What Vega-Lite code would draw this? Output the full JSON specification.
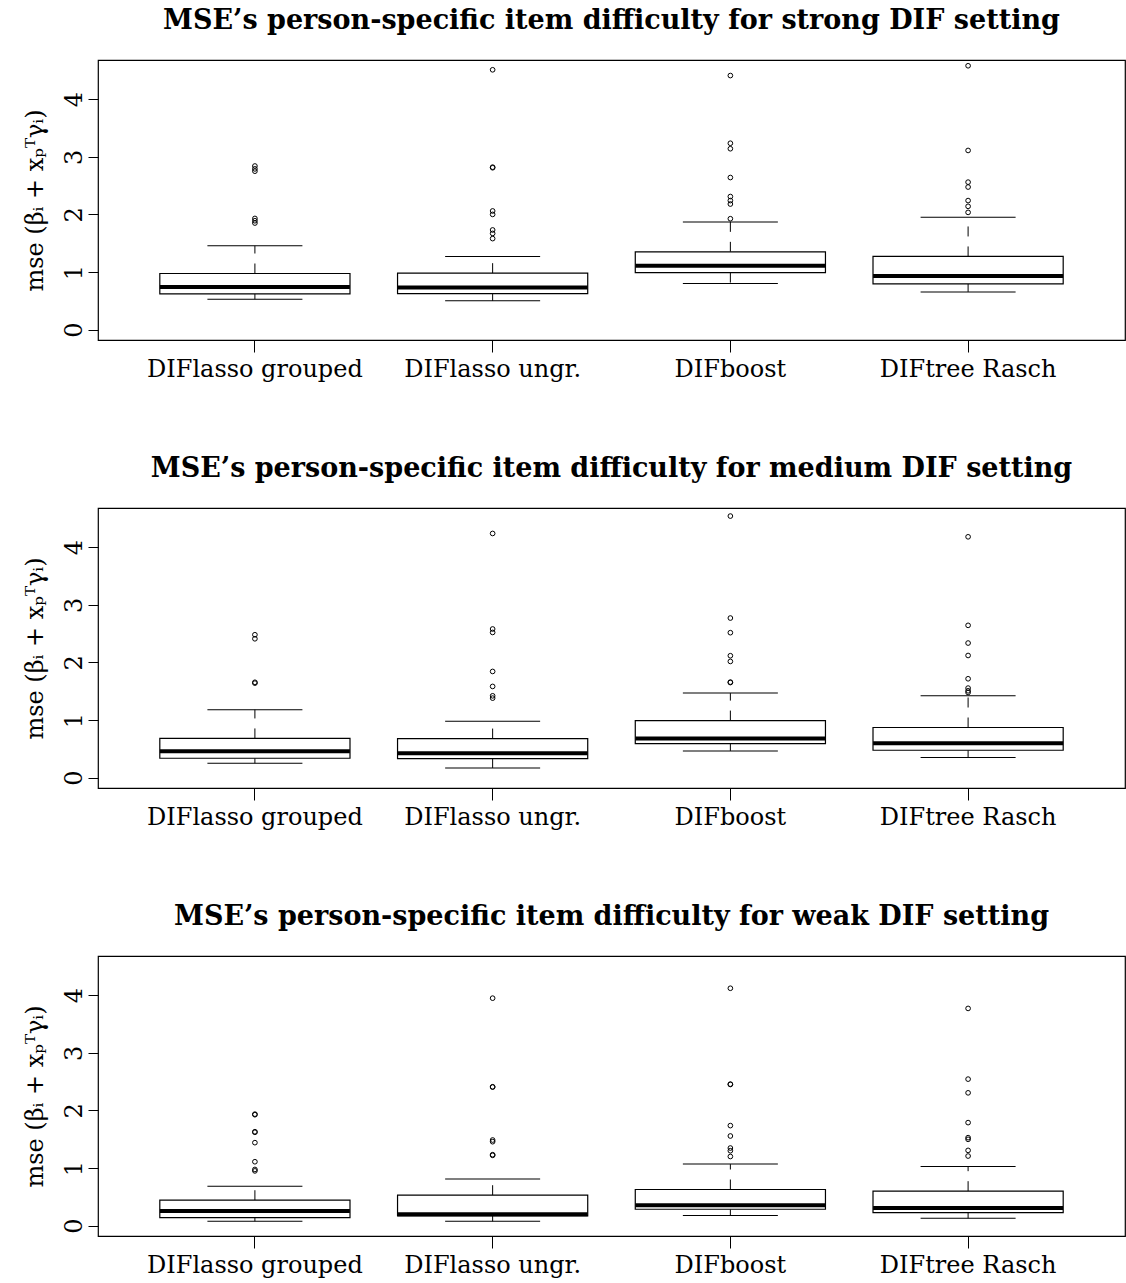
{
  "$schema": "https://vega.github.io/schema/vega-lite/v6.json",
  "background": "white",
  "padding": {"left": 22, "top": 6, "right": 0, "bottom": 0},
  "config": {
    "font": "DejaVu Serif",
    "view": {"stroke": "black", "strokeWidth": 1.2},
    "axis": {"labelColor": "black", "titleColor": "black", "tickColor": "black", "grid": false, "domain": false, "labelFont": "DejaVu Serif", "titleFont": "DejaVu Serif", "labelFontSize": 24, "titleFontSize": 24, "titleFontWeight": "normal", "labelLimit": 0},
    "title": {"font": "DejaVu Serif", "fontSize": 27, "fontWeight": "bold", "color": "black", "anchor": "middle", "offset": 25},
    "concat": {"spacing": 72}
  },
  "datasets": {
    "boxes": [
      {"setting": "strong", "method": "DIFlasso grouped", "lo": 0.528, "q1": 0.62, "med": 0.742, "q3": 0.974, "hi": 1.455},
      {"setting": "strong", "method": "DIFlasso ungr.", "lo": 0.50, "q1": 0.626, "med": 0.73, "q3": 0.98, "hi": 1.27},
      {"setting": "strong", "method": "DIFboost", "lo": 0.80, "q1": 0.99, "med": 1.107, "q3": 1.35, "hi": 1.87},
      {"setting": "strong", "method": "DIFtree Rasch", "lo": 0.655, "q1": 0.794, "med": 0.933, "q3": 1.27, "hi": 1.95},
      {"setting": "medium", "method": "DIFlasso grouped", "lo": 0.25, "q1": 0.336, "med": 0.458, "q3": 0.68, "hi": 1.18},
      {"setting": "medium", "method": "DIFlasso ungr.", "lo": 0.168, "q1": 0.33, "med": 0.423, "q3": 0.678, "hi": 0.98},
      {"setting": "medium", "method": "DIFboost", "lo": 0.464, "q1": 0.59, "med": 0.678, "q3": 0.99, "hi": 1.467},
      {"setting": "medium", "method": "DIFtree Rasch", "lo": 0.348, "q1": 0.475, "med": 0.597, "q3": 0.87, "hi": 1.42},
      {"setting": "weak", "method": "DIFlasso grouped", "lo": 0.075, "q1": 0.139, "med": 0.255, "q3": 0.441, "hi": 0.685},
      {"setting": "weak", "method": "DIFlasso ungr.", "lo": 0.075, "q1": 0.169, "med": 0.197, "q3": 0.528, "hi": 0.81},
      {"setting": "weak", "method": "DIFboost", "lo": 0.174, "q1": 0.284, "med": 0.354, "q3": 0.627, "hi": 1.068},
      {"setting": "weak", "method": "DIFtree Rasch", "lo": 0.128, "q1": 0.226, "med": 0.308, "q3": 0.598, "hi": 1.028}
    ],
    "outliers": [
      {"setting": "strong", "method": "DIFlasso grouped", "v": 2.84}, {"setting": "strong", "method": "DIFlasso grouped", "v": 2.79}, {"setting": "strong", "method": "DIFlasso grouped", "v": 2.75},
      {"setting": "strong", "method": "DIFlasso grouped", "v": 1.93}, {"setting": "strong", "method": "DIFlasso grouped", "v": 1.89}, {"setting": "strong", "method": "DIFlasso grouped", "v": 1.85},
      {"setting": "strong", "method": "DIFlasso ungr.", "v": 4.51}, {"setting": "strong", "method": "DIFlasso ungr.", "v": 2.82}, {"setting": "strong", "method": "DIFlasso ungr.", "v": 2.81},
      {"setting": "strong", "method": "DIFlasso ungr.", "v": 2.06}, {"setting": "strong", "method": "DIFlasso ungr.", "v": 2.0}, {"setting": "strong", "method": "DIFlasso ungr.", "v": 1.73},
      {"setting": "strong", "method": "DIFlasso ungr.", "v": 1.67}, {"setting": "strong", "method": "DIFlasso ungr.", "v": 1.58},
      {"setting": "strong", "method": "DIFboost", "v": 4.41}, {"setting": "strong", "method": "DIFboost", "v": 3.235}, {"setting": "strong", "method": "DIFboost", "v": 3.14},
      {"setting": "strong", "method": "DIFboost", "v": 2.64}, {"setting": "strong", "method": "DIFboost", "v": 2.31}, {"setting": "strong", "method": "DIFboost", "v": 2.24},
      {"setting": "strong", "method": "DIFboost", "v": 2.18}, {"setting": "strong", "method": "DIFboost", "v": 1.925},
      {"setting": "strong", "method": "DIFtree Rasch", "v": 4.58}, {"setting": "strong", "method": "DIFtree Rasch", "v": 3.11}, {"setting": "strong", "method": "DIFtree Rasch", "v": 2.56},
      {"setting": "strong", "method": "DIFtree Rasch", "v": 2.475}, {"setting": "strong", "method": "DIFtree Rasch", "v": 2.24}, {"setting": "strong", "method": "DIFtree Rasch", "v": 2.14},
      {"setting": "strong", "method": "DIFtree Rasch", "v": 2.035},
      {"setting": "medium", "method": "DIFlasso grouped", "v": 2.48}, {"setting": "medium", "method": "DIFlasso grouped", "v": 2.41}, {"setting": "medium", "method": "DIFlasso grouped", "v": 1.655},
      {"setting": "medium", "method": "DIFlasso grouped", "v": 1.64},
      {"setting": "medium", "method": "DIFlasso ungr.", "v": 4.238}, {"setting": "medium", "method": "DIFlasso ungr.", "v": 2.58}, {"setting": "medium", "method": "DIFlasso ungr.", "v": 2.52},
      {"setting": "medium", "method": "DIFlasso ungr.", "v": 1.843}, {"setting": "medium", "method": "DIFlasso ungr.", "v": 1.583}, {"setting": "medium", "method": "DIFlasso ungr.", "v": 1.42},
      {"setting": "medium", "method": "DIFlasso ungr.", "v": 1.38},
      {"setting": "medium", "method": "DIFboost", "v": 4.54}, {"setting": "medium", "method": "DIFboost", "v": 2.77}, {"setting": "medium", "method": "DIFboost", "v": 2.516},
      {"setting": "medium", "method": "DIFboost", "v": 2.116}, {"setting": "medium", "method": "DIFboost", "v": 2.017}, {"setting": "medium", "method": "DIFboost", "v": 1.658},
      {"setting": "medium", "method": "DIFboost", "v": 1.65},
      {"setting": "medium", "method": "DIFtree Rasch", "v": 4.18}, {"setting": "medium", "method": "DIFtree Rasch", "v": 2.643}, {"setting": "medium", "method": "DIFtree Rasch", "v": 2.336},
      {"setting": "medium", "method": "DIFtree Rasch", "v": 2.12}, {"setting": "medium", "method": "DIFtree Rasch", "v": 1.716}, {"setting": "medium", "method": "DIFtree Rasch", "v": 1.554},
      {"setting": "medium", "method": "DIFtree Rasch", "v": 1.507}, {"setting": "medium", "method": "DIFtree Rasch", "v": 1.478},
      {"setting": "weak", "method": "DIFlasso grouped", "v": 1.935}, {"setting": "weak", "method": "DIFlasso grouped", "v": 1.925}, {"setting": "weak", "method": "DIFlasso grouped", "v": 1.63},
      {"setting": "weak", "method": "DIFlasso grouped", "v": 1.62}, {"setting": "weak", "method": "DIFlasso grouped", "v": 1.44}, {"setting": "weak", "method": "DIFlasso grouped", "v": 1.109},
      {"setting": "weak", "method": "DIFlasso grouped", "v": 0.975}, {"setting": "weak", "method": "DIFlasso grouped", "v": 0.95},
      {"setting": "weak", "method": "DIFlasso ungr.", "v": 3.948}, {"setting": "weak", "method": "DIFlasso ungr.", "v": 2.41}, {"setting": "weak", "method": "DIFlasso ungr.", "v": 2.405},
      {"setting": "weak", "method": "DIFlasso ungr.", "v": 1.486}, {"setting": "weak", "method": "DIFlasso ungr.", "v": 1.457}, {"setting": "weak", "method": "DIFlasso ungr.", "v": 1.231},
      {"setting": "weak", "method": "DIFlasso ungr.", "v": 1.22},
      {"setting": "weak", "method": "DIFboost", "v": 4.12}, {"setting": "weak", "method": "DIFboost", "v": 2.456}, {"setting": "weak", "method": "DIFboost", "v": 2.45},
      {"setting": "weak", "method": "DIFboost", "v": 1.736}, {"setting": "weak", "method": "DIFboost", "v": 1.556}, {"setting": "weak", "method": "DIFboost", "v": 1.347},
      {"setting": "weak", "method": "DIFboost", "v": 1.3}, {"setting": "weak", "method": "DIFboost", "v": 1.2},
      {"setting": "weak", "method": "DIFtree Rasch", "v": 3.77}, {"setting": "weak", "method": "DIFtree Rasch", "v": 2.543}, {"setting": "weak", "method": "DIFtree Rasch", "v": 2.305},
      {"setting": "weak", "method": "DIFtree Rasch", "v": 1.788}, {"setting": "weak", "method": "DIFtree Rasch", "v": 1.527}, {"setting": "weak", "method": "DIFtree Rasch", "v": 1.498},
      {"setting": "weak", "method": "DIFtree Rasch", "v": 1.306}, {"setting": "weak", "method": "DIFtree Rasch", "v": 1.208}
    ]
  },
  "vconcat": [
    {
      "title": "MSE’s person-specific item difficulty for strong DIF setting",
      "width": 1027, "height": 280,
      "encoding": {
        "x": {"field": "method", "type": "nominal", "sort": ["DIFlasso grouped", "DIFlasso ungr.", "DIFboost", "DIFtree Rasch"], "scale": {"type": "band", "paddingInner": 0.2, "paddingOuter": 0.26}, "axis": {"title": null, "labelAngle": 0, "tickSize": 12, "labelPadding": 5}}
      },
      "layer": [
        {"data": {"name": "boxes"}, "transform": [{"filter": "datum.setting === 'strong'"}], "mark": {"type": "rule", "color": "black", "strokeDash": [10, 10], "strokeWidth": 1},
         "encoding": {"y": {"field": "q3", "type": "quantitative", "scale": {"domain": [-0.18, 4.68], "nice": false, "zero": false}, "axis": {"values": [0, 1, 2, 3, 4], "format": "d", "labelAngle": -90, "tickSize": 10, "labelPadding": 2, "title": "mse (βᵢ + xₚᵀγᵢ)", "titlePadding": 15}}, "y2": {"field": "hi"}}},
        {"data": {"name": "boxes"}, "transform": [{"filter": "datum.setting === 'strong'"}], "mark": {"type": "rule", "color": "black", "strokeDash": [10, 10], "strokeWidth": 1},
         "encoding": {"y": {"field": "q1", "type": "quantitative"}, "y2": {"field": "lo"}}},
        {"data": {"name": "boxes"}, "transform": [{"filter": "datum.setting === 'strong'"}], "mark": {"type": "tick", "orient": "horizontal", "size": 95, "thickness": 1, "color": "black", "opacity": 1},
         "encoding": {"y": {"field": "hi", "type": "quantitative"}}},
        {"data": {"name": "boxes"}, "transform": [{"filter": "datum.setting === 'strong'"}], "mark": {"type": "tick", "orient": "horizontal", "size": 95, "thickness": 1, "color": "black", "opacity": 1},
         "encoding": {"y": {"field": "lo", "type": "quantitative"}}},
        {"data": {"name": "boxes"}, "transform": [{"filter": "datum.setting === 'strong'"}], "mark": {"type": "bar", "fill": "white", "stroke": "black", "strokeWidth": 1.2},
         "encoding": {"y": {"field": "q1", "type": "quantitative"}, "y2": {"field": "q3"}}},
        {"data": {"name": "boxes"}, "transform": [{"filter": "datum.setting === 'strong'"}], "mark": {"type": "tick", "orient": "horizontal", "size": 190, "thickness": 4, "color": "black", "opacity": 1},
         "encoding": {"y": {"field": "med", "type": "quantitative"}}},
        {"data": {"name": "outliers"}, "transform": [{"filter": "datum.setting === 'strong'"}], "mark": {"type": "point", "shape": "circle", "filled": false, "size": 22, "strokeWidth": 1, "color": "black", "opacity": 1},
         "encoding": {"y": {"field": "v", "type": "quantitative"}}}
      ]
    },
    {
      "title": "MSE’s person-specific item difficulty for medium DIF setting",
      "width": 1027, "height": 280,
      "encoding": {
        "x": {"field": "method", "type": "nominal", "sort": ["DIFlasso grouped", "DIFlasso ungr.", "DIFboost", "DIFtree Rasch"], "scale": {"type": "band", "paddingInner": 0.2, "paddingOuter": 0.26}, "axis": {"title": null, "labelAngle": 0, "tickSize": 12, "labelPadding": 5}}
      },
      "layer": [
        {"data": {"name": "boxes"}, "transform": [{"filter": "datum.setting === 'medium'"}], "mark": {"type": "rule", "color": "black", "strokeDash": [10, 10], "strokeWidth": 1},
         "encoding": {"y": {"field": "q3", "type": "quantitative", "scale": {"domain": [-0.18, 4.68], "nice": false, "zero": false}, "axis": {"values": [0, 1, 2, 3, 4], "format": "d", "labelAngle": -90, "tickSize": 10, "labelPadding": 2, "title": "mse (βᵢ + xₚᵀγᵢ)", "titlePadding": 15}}, "y2": {"field": "hi"}}},
        {"data": {"name": "boxes"}, "transform": [{"filter": "datum.setting === 'medium'"}], "mark": {"type": "rule", "color": "black", "strokeDash": [10, 10], "strokeWidth": 1},
         "encoding": {"y": {"field": "q1", "type": "quantitative"}, "y2": {"field": "lo"}}},
        {"data": {"name": "boxes"}, "transform": [{"filter": "datum.setting === 'medium'"}], "mark": {"type": "tick", "orient": "horizontal", "size": 95, "thickness": 1, "color": "black", "opacity": 1},
         "encoding": {"y": {"field": "hi", "type": "quantitative"}}},
        {"data": {"name": "boxes"}, "transform": [{"filter": "datum.setting === 'medium'"}], "mark": {"type": "tick", "orient": "horizontal", "size": 95, "thickness": 1, "color": "black", "opacity": 1},
         "encoding": {"y": {"field": "lo", "type": "quantitative"}}},
        {"data": {"name": "boxes"}, "transform": [{"filter": "datum.setting === 'medium'"}], "mark": {"type": "bar", "fill": "white", "stroke": "black", "strokeWidth": 1.2},
         "encoding": {"y": {"field": "q1", "type": "quantitative"}, "y2": {"field": "q3"}}},
        {"data": {"name": "boxes"}, "transform": [{"filter": "datum.setting === 'medium'"}], "mark": {"type": "tick", "orient": "horizontal", "size": 190, "thickness": 4, "color": "black", "opacity": 1},
         "encoding": {"y": {"field": "med", "type": "quantitative"}}},
        {"data": {"name": "outliers"}, "transform": [{"filter": "datum.setting === 'medium'"}], "mark": {"type": "point", "shape": "circle", "filled": false, "size": 22, "strokeWidth": 1, "color": "black", "opacity": 1},
         "encoding": {"y": {"field": "v", "type": "quantitative"}}}
      ]
    },
    {
      "title": "MSE’s person-specific item difficulty for weak DIF setting",
      "width": 1027, "height": 280,
      "encoding": {
        "x": {"field": "method", "type": "nominal", "sort": ["DIFlasso grouped", "DIFlasso ungr.", "DIFboost", "DIFtree Rasch"], "scale": {"type": "band", "paddingInner": 0.2, "paddingOuter": 0.26}, "axis": {"title": null, "labelAngle": 0, "tickSize": 12, "labelPadding": 5}}
      },
      "layer": [
        {"data": {"name": "boxes"}, "transform": [{"filter": "datum.setting === 'weak'"}], "mark": {"type": "rule", "color": "black", "strokeDash": [10, 10], "strokeWidth": 1},
         "encoding": {"y": {"field": "q3", "type": "quantitative", "scale": {"domain": [-0.18, 4.68], "nice": false, "zero": false}, "axis": {"values": [0, 1, 2, 3, 4], "format": "d", "labelAngle": -90, "tickSize": 10, "labelPadding": 2, "title": "mse (βᵢ + xₚᵀγᵢ)", "titlePadding": 15}}, "y2": {"field": "hi"}}},
        {"data": {"name": "boxes"}, "transform": [{"filter": "datum.setting === 'weak'"}], "mark": {"type": "rule", "color": "black", "strokeDash": [10, 10], "strokeWidth": 1},
         "encoding": {"y": {"field": "q1", "type": "quantitative"}, "y2": {"field": "lo"}}},
        {"data": {"name": "boxes"}, "transform": [{"filter": "datum.setting === 'weak'"}], "mark": {"type": "tick", "orient": "horizontal", "size": 95, "thickness": 1, "color": "black", "opacity": 1},
         "encoding": {"y": {"field": "hi", "type": "quantitative"}}},
        {"data": {"name": "boxes"}, "transform": [{"filter": "datum.setting === 'weak'"}], "mark": {"type": "tick", "orient": "horizontal", "size": 95, "thickness": 1, "color": "black", "opacity": 1},
         "encoding": {"y": {"field": "lo", "type": "quantitative"}}},
        {"data": {"name": "boxes"}, "transform": [{"filter": "datum.setting === 'weak'"}], "mark": {"type": "bar", "fill": "white", "stroke": "black", "strokeWidth": 1.2},
         "encoding": {"y": {"field": "q1", "type": "quantitative"}, "y2": {"field": "q3"}}},
        {"data": {"name": "boxes"}, "transform": [{"filter": "datum.setting === 'weak'"}], "mark": {"type": "tick", "orient": "horizontal", "size": 190, "thickness": 4, "color": "black", "opacity": 1},
         "encoding": {"y": {"field": "med", "type": "quantitative"}}},
        {"data": {"name": "outliers"}, "transform": [{"filter": "datum.setting === 'weak'"}], "mark": {"type": "point", "shape": "circle", "filled": false, "size": 22, "strokeWidth": 1, "color": "black", "opacity": 1},
         "encoding": {"y": {"field": "v", "type": "quantitative"}}}
      ]
    }
  ]
}
